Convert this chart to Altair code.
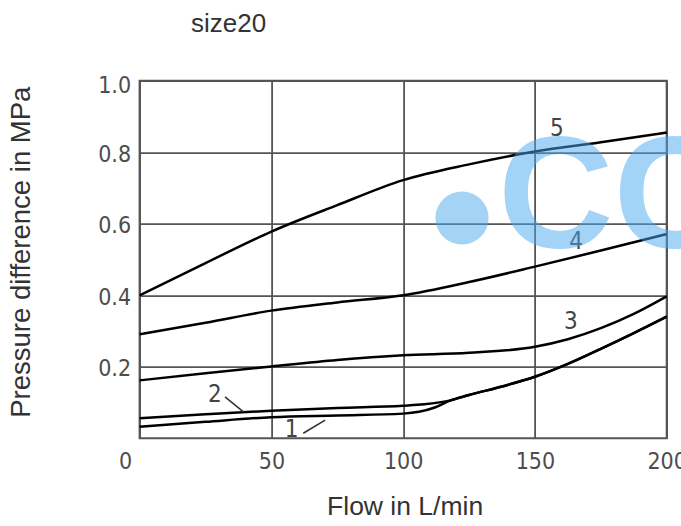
import altair as alt
import pandas as pd

# ---- data ----
flow_1 = [0, 25, 50, 75, 100, 106, 112, 118, 125, 137.5, 150, 162.5, 175, 187.5, 200]
dp_1 = [0.032, 0.046, 0.059, 0.064, 0.069, 0.074, 0.086, 0.106, 0.121, 0.145, 0.172, 0.208, 0.250, 0.294, 0.340]

flow_2 = [0, 25, 50, 75, 100, 108, 118, 125, 137.5, 150, 162.5, 175, 187.5, 200]
dp_2 = [0.056, 0.067, 0.077, 0.085, 0.091, 0.095, 0.106, 0.121, 0.145, 0.172, 0.208, 0.250, 0.294, 0.340]

flow_3 = [0, 25, 50, 75, 100, 125, 150, 162.5, 175, 187.5, 200]
dp_3 = [0.162, 0.182, 0.201, 0.219, 0.232, 0.239, 0.256, 0.277, 0.308, 0.348, 0.397]

flow_4 = [0, 25, 50, 75, 100, 125, 150, 175, 200]
dp_4 = [0.291, 0.323, 0.357, 0.380, 0.400, 0.437, 0.480, 0.525, 0.571]

flow_5 = [0, 25, 50, 75, 100, 125, 150, 175, 200]
dp_5 = [0.400, 0.490, 0.578, 0.652, 0.722, 0.766, 0.802, 0.828, 0.855]

curve_names = ["1", "2", "3", "4", "5"]

label_text = ["1", "2", "3", "4", "5"]
label_flow = [57.7, 28.6, 163.6, 165.6, 158.3]
label_dp = [0.022, 0.121, 0.326, 0.550, 0.864]

leader_flow = [62.1, 32.4]
leader_dp = [0.014, 0.116]
leader_flow2 = [70.4, 39.4]
leader_dp2 = [0.051, 0.074]

x_ticks = [0, 50, 100, 150, 200]
y_ticks = [0.2, 0.4, 0.6, 0.8, 1.0]

title_text = "size20"
x_title = "Flow in L/min"
y_title = "Pressure difference in MPa"
watermark_text = "CC"

# ---- tables ----
rows = []
for name, xs, ys in zip(curve_names, [flow_1, flow_2, flow_3, flow_4, flow_5],
                        [dp_1, dp_2, dp_3, dp_4, dp_5]):
    for xv, yv in zip(xs, ys):
        rows.append({"curve": name, "flow": xv, "dp": yv})
curves = pd.DataFrame(rows)
labels = pd.DataFrame({"t": label_text, "flow": label_flow, "dp": label_dp})
leaders = pd.DataFrame({"flow": leader_flow, "dp": leader_dp,
                        "flow2": leader_flow2, "dp2": leader_dp2})

W, H = 527.1, 357.6
PL, PT = 139.6, 80.7

TICK_FONT = "Liberation Sans Narrow, DejaVu Sans Condensed, Roboto Condensed, Liberation Sans"
TEXT_FONT = "Liberation Sans"

xs = alt.Scale(domain=[0, 200], nice=False, zero=False)
ys = alt.Scale(domain=[0, 1], nice=False, zero=False)

x_axis = alt.Axis(
    values=x_ticks, format="d", title=x_title, grid=True, ticks=False, domain=False,
    gridColor="#555555", gridWidth=1.8, gridOpacity=1,
    labelFont=TICK_FONT, labelFontSize=23, labelColor="#4d4d4d",
    labelPadding=12, labelFlush=False, labelOverlap=False,
    labelOffset={"condition": {"test": "datum.value == 0", "value": -14.5}, "value": 0},
    titleFont=TEXT_FONT, titleFontSize=26.5, titleFontWeight="normal", titleColor="#333333",
    titleX=265, titleY=68, titleAlign="center", titleBaseline="middle", titleAnchor="start",
)
y_axis = alt.Axis(
    values=y_ticks, format=".1f", title=y_title, grid=True, ticks=False, domain=False,
    gridColor="#555555", gridWidth=1.8, gridOpacity=1,
    labelFont=TICK_FONT, labelFontSize=23, labelColor="#4d4d4d",
    labelPadding=9, labelFlush=False, labelOverlap=False, labelBaseline="middle",
    labelOffset={"condition": {"test": "datum.value == 1", "value": 5}, "value": 2},
    titleFont=TEXT_FONT, titleFontSize=27.5, titleFontWeight="normal", titleColor="#333333",
    titleAngle=270, titleX=-118, titleY=171, titleAlign="center", titleBaseline="middle",
    titleAnchor="start",
)

lines = alt.Chart(curves).mark_line(color="black", strokeWidth=2.5, interpolate="monotone").encode(
    x=alt.X("flow:Q", scale=xs, axis=x_axis),
    y=alt.Y("dp:Q", scale=ys, axis=y_axis),
    detail="curve:N",
)

curve_labels = alt.Chart(labels).mark_text(
    font=TICK_FONT, fontSize=24, color="#444444", align="center", baseline="middle"
).encode(x=alt.X("flow:Q", scale=xs), y=alt.Y("dp:Q", scale=ys), text="t:N")

leader_lines = alt.Chart(leaders).mark_rule(color="#333333", strokeWidth=1.6).encode(
    x=alt.X("flow:Q", scale=xs), y=alt.Y("dp:Q", scale=ys),
    x2="flow2:Q", y2="dp2:Q",
)

title_mark = alt.Chart(pd.DataFrame({"t": [title_text]})).mark_text(
    font=TEXT_FONT, fontSize=26, color="#333333", align="left", baseline="alphabetic"
).encode(x=alt.value(191 - PL), y=alt.value(32 - PT), text="t:N")

# watermark: a round dot followed by the letters
wm_dot = alt.Chart(pd.DataFrame({"k": [0]})).mark_circle(
    size=2830, color="#4aa8ee", opacity=0.5
).encode(x=alt.value(462 - PL), y=alt.value(218 - PT))

watermark = alt.Chart(pd.DataFrame({"t": [watermark_text]})).mark_text(
    font="Liberation Sans", fontWeight=700, fontSize=160, color="#4aa8ee",
    opacity=0.5, align="left", baseline="alphabetic"
).encode(x=alt.value(498 - PL), y=alt.value(247 - PT), text="t:N")

chart = alt.layer(lines, leader_lines, curve_labels, title_mark, wm_dot, watermark).properties(
    width=W, height=H,
    autosize=alt.AutoSizeParams(type="none"),
    padding={"left": PL, "top": PT, "right": 681 - PL - W, "bottom": 526 - PT - H},
    background="white",
).configure_view(stroke="#555555", strokeWidth=2)

chart.save("out.html", embed_options={"renderer": "svg", "actions": False})
